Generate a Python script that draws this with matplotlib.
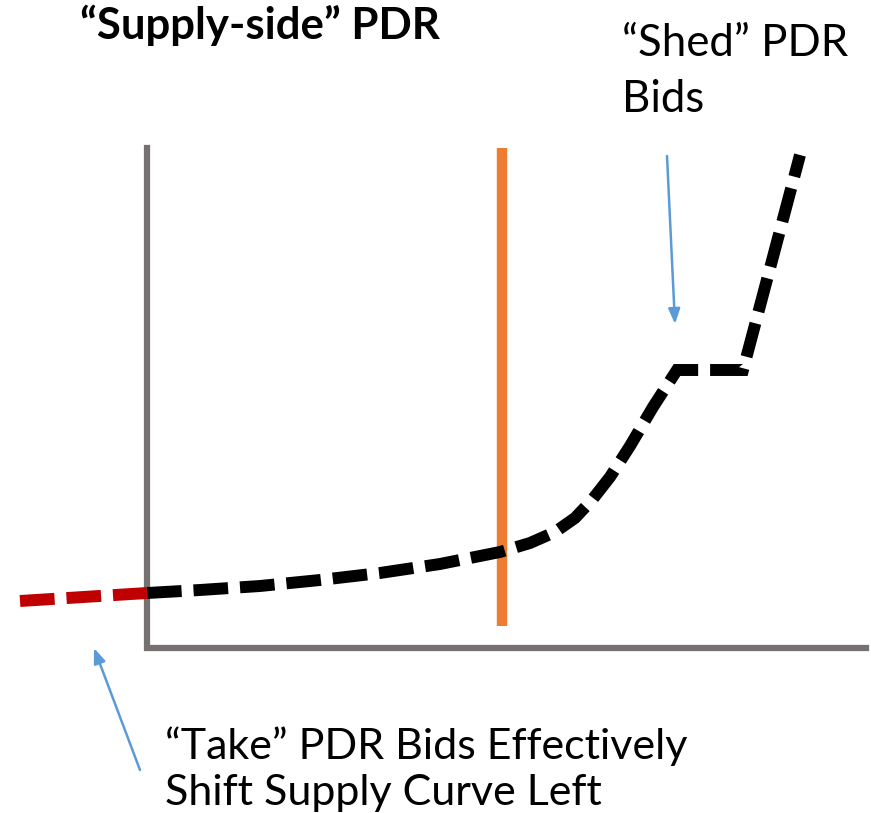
"""Supply-side PDR sketch: supply curve with shed and take bids."""
import matplotlib.pyplot as plt

# diagram coordinates (x right, y down, same scale as the canvas)
axis_x = [147, 147, 866]
axis_y = [148, 648, 648]

price_x = [502, 502]
price_y = [148, 626]

supply_x = [147, 200, 260, 320, 380, 440, 500, 530, 555, 575, 592,
            610, 630, 653, 677, 743, 800]
supply_y = [593, 590, 586, 580, 573, 564, 552, 543, 532, 518, 500,
            477, 446, 407, 370, 370, 155]

take_x = [20, 147]
take_y = [601, 593]

title = "\u201cSupply-side\u201d PDR"
shed_label = "\u201cShed\u201d PDR\nBids"
take_label = "\u201cTake\u201d PDR Bids Effectively\nShift Supply Curve Left"

BLUE = "#5B9BD5"


def main():
    fig = plt.figure(figsize=(8.71, 8.13), dpi=100)
    ax = fig.add_axes([0, 0, 1, 1])
    ax.set_xlim(0, 871)
    ax.set_ylim(813, 0)
    ax.axis("off")

    ax.plot(axis_x, axis_y, color="#767171", lw=4.5, solid_joinstyle="miter")
    ax.plot(price_x, price_y, color="#ED7D31", lw=7.5, solid_capstyle="butt")

    dash = dict(lw=8.6, dashes=(2.9, 1.0), dash_capstyle="butt")
    ax.plot(supply_x, supply_y, color="black", dash_joinstyle="miter", **dash)
    ax.plot(take_x, take_y, color="#C00000", **dash)

    arrow = dict(arrowstyle="-|>,head_length=0.9,head_width=0.35",
                 color=BLUE, lw=1.8, shrinkA=0, shrinkB=0)
    ax.annotate("", xy=(675, 324), xytext=(667, 156), arrowprops=arrow)
    ax.annotate("", xy=(94, 648), xytext=(140, 770), arrowprops=arrow)

    ax.text(80, 39, title, fontsize=31.5, fontweight="bold", family="Lato",
            ha="left", va="baseline")
    ax.text(622, 112, shed_label, fontsize=31.5, family="Lato",
            ha="left", va="baseline", linespacing=1.45)
    ax.text(165, 805, take_label, fontsize=31, family="Lato",
            ha="left", va="baseline", linespacing=1.25)

    fig.savefig("out.png", dpi=100)


if __name__ == "__main__":
    main()
